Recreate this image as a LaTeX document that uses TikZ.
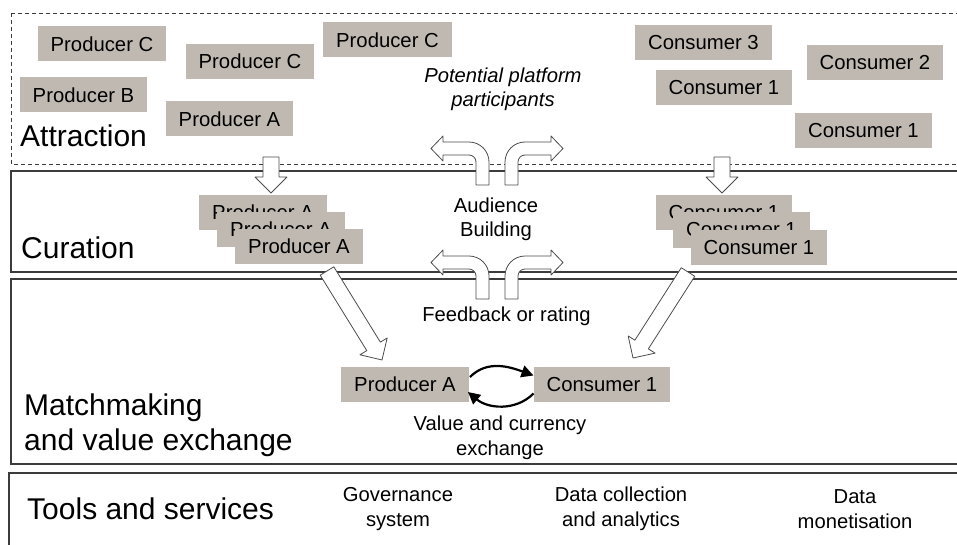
\documentclass[tikz,border=0pt]{standalone}
\usepackage{fontspec}
\setmainfont{Liberation Sans}
\usetikzlibrary{arrows.meta,positioning,calc}

\definecolor{boxgray}{RGB}{191,185,178}
\definecolor{framegray}{RGB}{60,60,60}

% fat white arrow between two points
\newcommand{\fatarrow}[2]{%
  \path let \p1=($(#2)-(#1)$) in \pgfextra{%
    \pgfmathsetmacro\fatang{atan2(\y1,\x1)}%
    \pgfmathsetmacro\fatlen{veclen(\x1,\y1)}%
    \xdef\fatang{\fatang}\xdef\fatlen{\fatlen}};
  \draw[blockarrow, shift={(#1)}, rotate=\fatang]
    (0,-8) -- ({\fatlen-16},-8) -- ({\fatlen-16},-16) -- (\fatlen,0)
    -- ({\fatlen-16},16) -- ({\fatlen-16},8) -- (0,8) -- cycle;
}

\tikzset{bentarrow/.pic={
  \draw[blockarrow] (0,0) -- (0,-23) arc[start angle=0, end angle=-90, radius=20]
    -- (-46,-43) -- (-46,-49) -- (-58,-36.5) -- (-46,-24) -- (-46,-30)
    -- (-20,-30) arc[start angle=-90, end angle=0, radius=7] -- (-13,0) -- cycle;
}}

\begin{document}
\begin{tikzpicture}[
  x=1pt, y=-1pt,
  >=Latex,
  actor/.style={fill=boxgray, inner xsep=13pt, minimum height=35pt, font=\fontsize{20.3}{24}\selectfont},
  note/.style={align=center, font=\fontsize{20.2}{24.5}\selectfont},
  phase/.style={anchor=base west, inner sep=0pt, align=left, font=\fontsize{30}{35}\selectfont},
  band/.style={draw=framegray, line width=1.1pt},
  dashband/.style={draw=framegray, line width=0.8pt, dash pattern=on 4pt off 3pt},
  blockarrow/.style={draw=black!70, fill=white, line width=0.8pt, line join=round},
  trade/.style={line width=2.2pt, -{Triangle[length=12pt,width=12pt]}}
]
\useasboundingbox (0,0) rectangle (957,545);
\clip (0,0) rectangle (957,545);

% layers
\draw[dashband] (11,13) rectangle (975,164);
\draw[band] (11,171) rectangle (975,272);
\draw[band] (11,279) rectangle (975,464);
\draw[band] (9,473) rectangle (975,560);

\node[phase] (attraction) at (20,147) {Attraction};
\node[phase] (curation) at (21,258) {Curation};
\node[phase, anchor=north west] (matchmaking) at (24,393.5) {Matchmaking\\and value exchange};
\node[phase] (tools) at (27,519) {Tools and services};

% attraction
\node[actor] (pc1) at (102,44) {Producer C};
\node[actor] (pc2) at (250,61.5) {Producer C};
\node[actor] (pc3) at (387.5,40) {Producer C};
\node[actor] (pb) at (83.5,95) {Producer B};
\node[actor] (pa) at (229.5,119) {Producer A};
\node[actor] (c3) at (703.5,42.5) {Consumer 3};
\node[actor] (c2) at (875,62.5) {Consumer 2};
\node[actor] (c1a) at (724,88) {Consumer 1};
\node[actor] (c1b) at (863.5,130.5) {Consumer 1};
\node[note, font=\fontsize{20.2}{24}\selectfont\itshape] (potential) at (503,89) {Potential platform\\participants};

\coordinate (pfrom) at (271,157);
\coordinate (pto) at (271,193);
\coordinate (cfrom) at (722,157);
\coordinate (cto) at (722,193);
\fatarrow{pfrom}{pto}
\fatarrow{cfrom}{cto}

\pic at (489,185) {bentarrow};
\pic[xscale=-1] at (505,185) {bentarrow};
\pic at (489,299) {bentarrow};
\pic[xscale=-1] at (505,299) {bentarrow};

% curation
\node[actor] (cpa1) at (263,212.5) {Producer A};
\node[actor] (cpa2) at ($(cpa1)+(18,17)$) {Producer A};
\node[actor] (cpa3) at ($(cpa2)+(18,17)$) {Producer A};
\node[actor] (ccon1) at (724,212.5) {Consumer 1};
\node[actor] (ccon2) at ($(ccon1)+(17.5,17.5)$) {Consumer 1};
\node[actor] (ccon3) at ($(ccon2)+(17.5,17.5)$) {Consumer 1};
\node[note] (audience) at (496,219.5) {Audience\\Building};
\node[note] (feedback) at (506.5,316) {Feedback or rating};

\coordinate (pmfrom) at (327,271);
\coordinate (pmto) at (382,360);
\coordinate (cmfrom) at (688,272);
\coordinate (cmto) at (633,358);
\fatarrow{pmfrom}{pmto}
\fatarrow{cmfrom}{cmto}

% matchmaking
\node[actor] (mpa) at (405,384) {Producer A};
\node[actor] (mcon) at (602,384.5) {Consumer 1};
\draw[trade] ($(mpa.east)+(1,-7)$) to[out=45, in=160] ($(mcon.west)+(0,-9)$);
\draw[trade] ($(mcon.west)+(0,9)$) to[out=-135, in=-40] ($(mpa.east)+(-1,8)$);
\node[note] (value) at (500,438) {Value and currency\\exchange};

% tools
\node[note] (gov) at (398,509) {Governance\\system};
\node[note] (datacoll) at (621,509) {Data collection\\and analytics};
\node[note] (datamon) at (855,509) {Data\\monetisation};

\end{tikzpicture}
\end{document}
